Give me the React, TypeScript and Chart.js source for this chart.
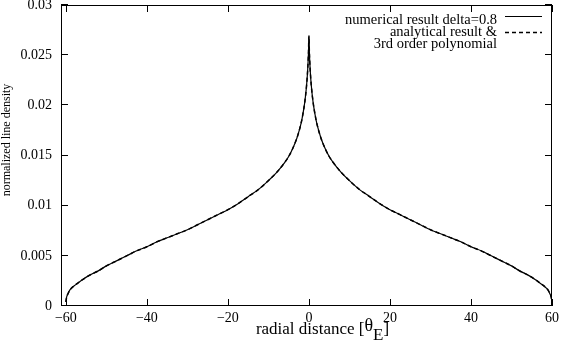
import React, { useEffect, useRef } from "react";
import { Chart, registerables } from "chart.js";

Chart.register(...registerables);

// radial distance [theta_E]
const radialX = [
  -60, -59.8, -59.5, -59, -58, -57, -56, -54, -52, -50, -47.5, -45, -42.5, -40, -37.5, -35, -32.5, -30,
  -27.5, -25, -22.5, -20, -17.5, -15, -12.5, -10, -8, -6, -5, -4, -3, -2, -1.5, -1, -0.6, -0.3, -0.1, 0,
  0.1, 0.3, 0.6, 1, 1.5, 2, 3, 4, 5, 6, 8, 10, 12.5, 15, 17.5, 20, 22.5, 25, 27.5, 30, 32.5, 35, 37.5,
  40, 42.5, 45, 47.5, 50, 52, 54, 56, 57, 58, 59, 59.5, 59.8, 60,
];

// numerical result delta=0.8
const numericalY = [
  0.0004, 0.0009, 0.0012, 0.0016, 0.002, 0.0023, 0.0026, 0.0031, 0.0035, 0.004, 0.0045, 0.005, 0.0055,
  0.0059, 0.0064, 0.0068, 0.0072, 0.0076, 0.0081, 0.0086, 0.0091, 0.0096, 0.0102, 0.0109, 0.0116, 0.0125,
  0.0133, 0.0143, 0.0149, 0.0157, 0.0167, 0.0181, 0.0191, 0.0204, 0.0219, 0.0236, 0.0254, 0.0269,
  0.0254, 0.0236, 0.0219, 0.0204, 0.0191, 0.0181, 0.0167, 0.0157, 0.0149, 0.0143, 0.0133, 0.0125,
  0.0116, 0.0109, 0.0102, 0.0096, 0.0091, 0.0086, 0.0081, 0.0076, 0.0072, 0.0068, 0.0064, 0.0059,
  0.0055, 0.005, 0.0045, 0.004, 0.0035, 0.0031, 0.0026, 0.0023, 0.002, 0.0016, 0.0012, 0.0009, 0.0004,
];

// analytical result & 3rd order polynomial (overlaps the numerical curve)
const analyticalY = [
  0.0004, 0.0009, 0.0012, 0.0016, 0.002, 0.0023, 0.0026, 0.0031, 0.0035, 0.004, 0.0045, 0.005, 0.0055,
  0.0059, 0.0064, 0.0068, 0.0072, 0.0076, 0.0081, 0.0086, 0.0091, 0.0096, 0.0102, 0.0109, 0.0116, 0.0125,
  0.0133, 0.0143, 0.0149, 0.0157, 0.0167, 0.0181, 0.0191, 0.0204, 0.0219, 0.0236, 0.0254, 0.0269,
  0.0254, 0.0236, 0.0219, 0.0204, 0.0191, 0.0181, 0.0167, 0.0157, 0.0149, 0.0143, 0.0133, 0.0125,
  0.0116, 0.0109, 0.0102, 0.0096, 0.0091, 0.0086, 0.0081, 0.0076, 0.0072, 0.0068, 0.0064, 0.0059,
  0.0055, 0.005, 0.0045, 0.004, 0.0035, 0.0031, 0.0026, 0.0023, 0.002, 0.0016, 0.0012, 0.0009, 0.0004,
];

const xTicks = [-60, -40, -20, 0, 20, 40, 60];
const yTicks = [0, 0.005, 0.01, 0.015, 0.02, 0.025, 0.03];
const legendLabels = ["numerical result delta=0.8", "analytical result &", "3rd order polynomial"];
const xTitle = "radial distance [";
const xTitleSymbol = "\u03B8";
const xTitleSub = "E";
const xTitleEnd = "]";
const yTitle = "normalized line density";

const SERIF = '"Liberation Serif", "Times New Roman", serif';

const decorPlugin = {
  id: "decor",
  afterDraw(chart: any) {
    const { ctx, chartArea, scales } = chart;
    const { left, right, top, bottom } = chartArea;
    const xs = scales.x;
    const ys = scales.y;
    ctx.save();
    ctx.strokeStyle = "#000";
    ctx.lineWidth = 1;
    ctx.setLineDash([]);
    // border
    ctx.strokeRect(left + 0.5, top + 0.5, right - left - 1, bottom - top - 1);
    // inward ticks, mirrored
    const tl = 7;
    ctx.beginPath();
    xTicks.forEach((v) => {
      const px = Math.round(xs.getPixelForValue(v)) + 0.5;
      ctx.moveTo(px, bottom);
      ctx.lineTo(px, bottom - tl);
      ctx.moveTo(px, top);
      ctx.lineTo(px, top + tl);
    });
    yTicks.forEach((v) => {
      const py = Math.round(ys.getPixelForValue(v)) - 0.5;
      ctx.moveTo(left, py);
      ctx.lineTo(left + tl, py);
      ctx.moveTo(right, py);
      ctx.lineTo(right - tl, py);
    });
    ctx.stroke();

    // legend
    ctx.fillStyle = "#000";
    ctx.font = `14.5px ${SERIF}`;
    ctx.textAlign = "right";
    ctx.textBaseline = "alphabetic";
    ctx.fillText(legendLabels[0], 497, 23.5);
    ctx.fillText(legendLabels[1], 497, 35.5);
    ctx.fillText(legendLabels[2], 497, 47.5);
    ctx.lineWidth = 1;
    ctx.beginPath();
    ctx.moveTo(505, 16.5);
    ctx.lineTo(542, 16.5);
    ctx.stroke();
    ctx.lineWidth = 1.5;
    ctx.setLineDash([4, 3]);
    ctx.beginPath();
    ctx.moveTo(505, 32.5);
    ctx.lineTo(542, 32.5);
    ctx.stroke();
    ctx.setLineDash([]);

    // x title
    const f1 = `17px ${SERIF}`;
    const fSym = `18px ${SERIF}`;
    const fSub = `17px ${SERIF}`;
    ctx.textAlign = "left";
    ctx.font = f1;
    const w1 = ctx.measureText(xTitle).width;
    const w4 = ctx.measureText(xTitleEnd).width;
    ctx.font = fSym;
    const w2 = ctx.measureText(xTitleSymbol).width;
    ctx.font = fSub;
    const w3 = ctx.measureText(xTitleSub).width;
    const total = w1 + w2 + w3 + w4;
    let cx = 322.5 - total / 2;
    ctx.font = f1;
    ctx.fillText(xTitle, cx, 334);
    cx += w1;
    ctx.font = fSym;
    ctx.fillText(xTitleSymbol, cx, 331);
    cx += w2;
    ctx.font = fSub;
    ctx.fillText(xTitleSub, cx, 340);
    cx += w3;
    ctx.font = f1;
    ctx.fillText(xTitleEnd, cx, 334);

    // y title
    ctx.save();
    ctx.translate(7, 140);
    ctx.rotate(-Math.PI / 2);
    ctx.font = `12px ${SERIF}`;
    ctx.textAlign = "center";
    ctx.textBaseline = "middle";
    ctx.fillText(yTitle, 0, 0);
    ctx.restore();
    ctx.restore();
  },
};

export default function App() {
  const ref = useRef<HTMLCanvasElement>(null);
  useEffect(() => {
    document.body.style.margin = "0";
    const canvas = ref.current!;
    const chart = new Chart(canvas, {
      type: "line",
      data: {
        datasets: [
          {
            label: legendLabels[0],
            data: radialX.map((x, i) => ({ x, y: numericalY[i] })),
            borderColor: "#000",
            borderWidth: 1.2,
            pointRadius: 0,
            cubicInterpolationMode: "monotone",
            fill: false,
          },
          {
            label: legendLabels[1],
            data: radialX.map((x, i) => ({ x, y: analyticalY[i] })),
            borderColor: "#000",
            borderWidth: 1.5,
            borderDash: [4, 3],
            pointRadius: 0,
            cubicInterpolationMode: "monotone",
            fill: false,
          },
        ],
      },
      plugins: [decorPlugin],
      options: {
        animation: false,
        responsive: false,
        devicePixelRatio: 1,
        layout: { padding: { top: 5, right: 9, left: 0, bottom: 0 } },
        plugins: { legend: { display: false }, tooltip: { enabled: false } },
        scales: {
          x: {
            type: "linear",
            min: -61.2,
            max: 60,
            grid: { display: false, drawTicks: false },
            border: { display: false },
            afterBuildTicks: (s: any) => {
              s.ticks = xTicks.map((v) => ({ value: v }));
            },
            afterFit: (s: any) => {
              s.height = 42;
              s.paddingLeft = 0;
              s.paddingRight = 0;
            },
            ticks: {
              color: "#000",
              font: { family: SERIF, size: 14 },
              padding: 4,
              maxRotation: 0,
              autoSkip: false,
              callback: (v: any) => String(v).replace("-", "\u2212"),
            },
          },
          y: {
            type: "linear",
            min: 0,
            max: 0.03,
            grid: { display: false, drawTicks: false },
            border: { display: false },
            afterBuildTicks: (s: any) => {
              s.ticks = yTicks.map((v) => ({ value: v }));
            },
            afterFit: (s: any) => {
              s.width = 61;
              s.paddingTop = 0;
              s.paddingBottom = 0;
            },
            ticks: {
              color: "#000",
              font: { family: SERIF, size: 14 },
              padding: 9,
              autoSkip: false,
              callback: (v: any) => String(Number(Number(v).toFixed(3))),
            },
          },
        },
      },
    });
    return () => chart.destroy();
  }, []);
  return (
    <div style={{ width: 561, height: 348 }}>
      <canvas ref={ref} width={561} height={348} style={{ display: "block" }} />
    </div>
  );
}
